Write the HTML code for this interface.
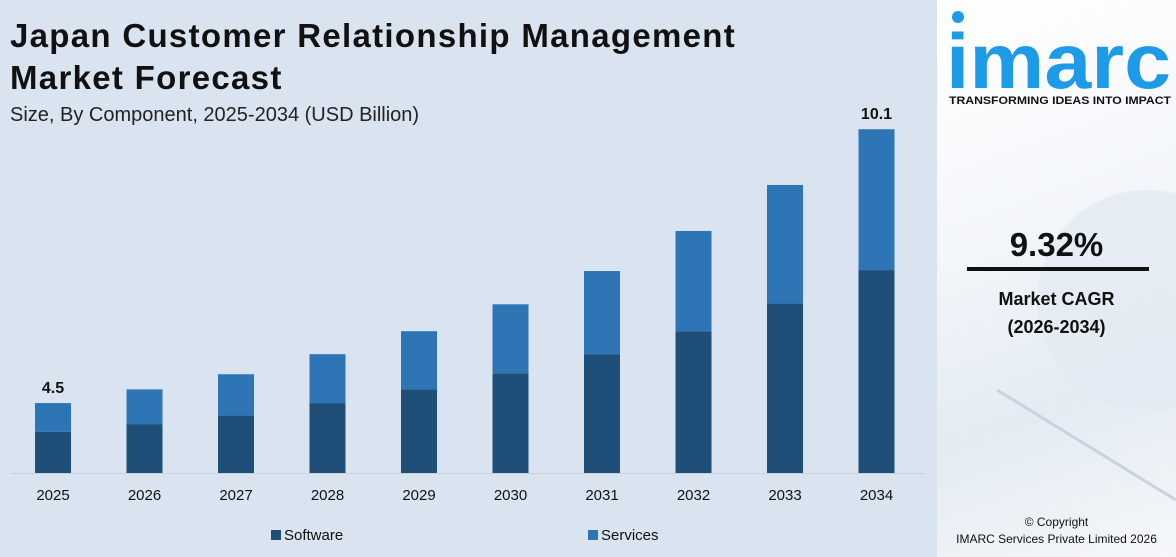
<!DOCTYPE html>
<html><head><meta charset="utf-8"><style>
body{margin:0;width:1176px;height:557px;overflow:hidden;font-family:"Liberation Sans",Arial,sans-serif;}
#main{position:absolute;left:0;top:0;width:937px;height:557px;background:#dae4f1;}
#side{position:absolute;left:937px;top:0;width:239px;height:557px;background:linear-gradient(160deg,#ffffff 0%,#f3f6fa 40%,#e4ebf3 70%,#f5f7fa 100%);}
.t{position:absolute;margin:0;color:#111;}
</style></head><body>
<div id="main">
<h1 class="t" style="left:10px;top:15px;font-size:33px;line-height:42px;font-weight:bold;letter-spacing:1.3px;">Japan Customer Relationship Management<br>Market Forecast</h1>
<div class="t" style="left:10px;top:104px;font-size:20px;color:#222;">Size, By Component, 2025-2034 (USD Billion)</div>
<svg id="chart" width="937" height="557" style="position:absolute;left:0;top:0"></svg>
</div>
<div id="side">
<svg width="239" height="557" style="position:absolute;left:0;top:0">
<circle cx="210" cy="300" r="110" fill="#e2e9f2" opacity="0.7"/>
<line x1="60" y1="390" x2="239" y2="500" stroke="#c9d3df" stroke-width="3"/>
<circle cx="21" cy="17" r="6" fill="#1e9be8"/>
<text x="9" y="88" font-size="78" font-weight="bold" fill="#1e9be8" font-family="Liberation Sans" textLength="225" lengthAdjust="spacingAndGlyphs">imarc</text>
<text x="12" y="104" font-size="11" font-weight="bold" fill="#111" font-family="Liberation Sans" textLength="222" lengthAdjust="spacingAndGlyphs">TRANSFORMING IDEAS INTO IMPACT</text>
</svg>
<div class="t" style="left:0;width:239px;text-align:center;top:226px;font-size:33px;font-weight:bold;">9.32%</div>
<div style="position:absolute;left:30px;top:267px;width:182px;height:4px;background:#111;"></div>
<div class="t" style="left:0;width:239px;text-align:center;top:285px;font-size:18px;font-weight:bold;line-height:28px;">Market CAGR<br>(2026-2034)</div>
<div class="t" style="left:0;width:239px;text-align:center;top:514px;font-size:12px;line-height:17px;">© Copyright<br>IMARC Services Private Limited 2026</div>
</div>
<script>
const years=['2025','2026','2027','2028','2029','2030','2031','2032','2033','2034'];
const software=[3.91,4.07,4.25,4.50,4.78,5.11,5.50,5.97,6.54,7.22];
const services=[0.59,0.71,0.84,1.00,1.19,1.41,1.70,2.05,2.42,2.88];
const totalLabels={0:'4.5',9:'10.1'};
const svg=document.getElementById('chart');const NS='http://www.w3.org/2000/svg';
const base=473,pxPer=48.9,vmin=3.07;
const y=v=>base-(v-vmin)*pxPer;
const x=i=>53+i*91.5;
function mk(t,a){const e=document.createElementNS(NS,t);for(const k in a)e.setAttribute(k,a[k]);svg.appendChild(e);return e;}
years.forEach((yr,i)=>{
 const ys=y(software[i]),yt=y(software[i]+services[i]);
 let r=mk('rect',{x:x(i)-18,y:ys,width:36,height:base-ys,fill:'#1f4e79'});
 
 
 r=mk('rect',{x:x(i)-18,y:yt,width:36,height:ys-yt,fill:'#2e75b6'});
 
 
 let t=mk('text',{x:x(i),y:500,'text-anchor':'middle','font-size':15,fill:'#111'});t.textContent=yr;
 
 
 if(totalLabels[i]){t=mk('text',{x:x(i),y:yt-10,'text-anchor':'middle','font-size':16,'font-weight':'bold',fill:'#111'});t.textContent=totalLabels[i];
 
 }
});
const ax=mk('line',{x1:10,x2:925,y1:base+0.5,y2:base+0.5,stroke:'#c8d0da','stroke-width':1});


[['Software','#1f4e79',271],['Services','#2e75b6',588]].forEach(([n,c,lx])=>{
 const g=document.createElementNS(NS,'g');svg.appendChild(g);
 
 
 const r=document.createElementNS(NS,'rect');r.setAttribute('x',lx);r.setAttribute('y',530);r.setAttribute('width',10);r.setAttribute('height',10);r.setAttribute('fill',c);g.appendChild(r);
 const t=document.createElementNS(NS,'text');t.setAttribute('x',lx+13);t.setAttribute('y',540);t.setAttribute('font-size',15);t.setAttribute('fill','#111');t.textContent=n;g.appendChild(t);
});
</script>
</body></html>
